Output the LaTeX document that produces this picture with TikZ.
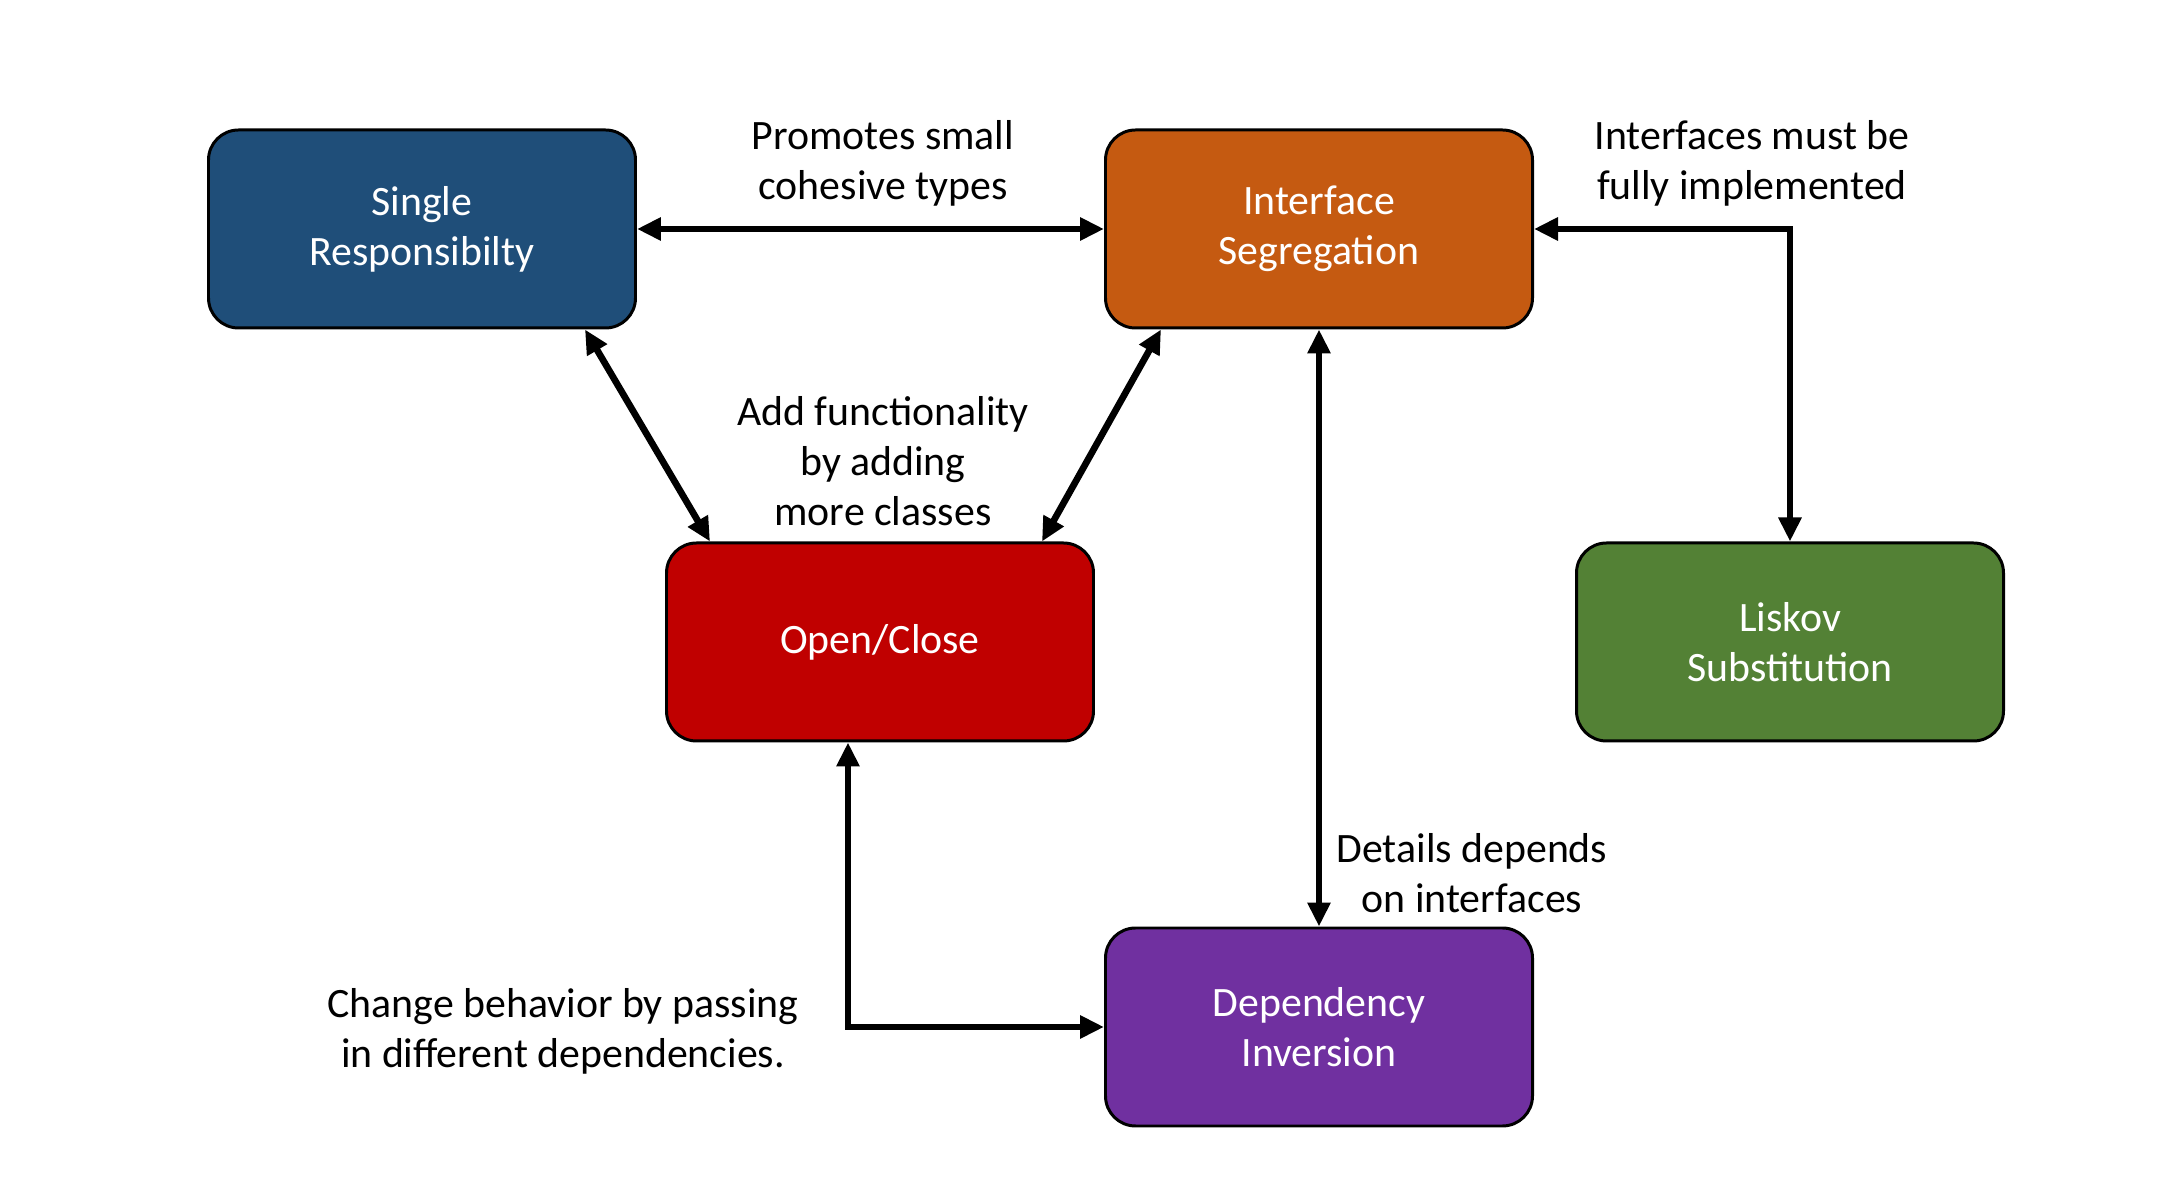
\documentclass[tikz,border=0pt]{standalone}
\usepackage{fontspec}
\setmainfont{Carlito}
\usepackage{xcolor}
\usetikzlibrary{arrows.meta, positioning}

\definecolor{srblue}{HTML}{1F4E79}
\definecolor{isorange}{HTML}{C55A11}
\definecolor{ocred}{HTML}{C00000}
\definecolor{lsgreen}{HTML}{538135}
\definecolor{dipurple}{HTML}{7030A0}

\begin{document}
\begin{tikzpicture}[
    principle/.style={draw=black, line width=0.85pt, rounded corners=0.3cm,
      minimum width=4.27cm, minimum height=1.98cm, align=center,
      text=white, font=\fontsize{11.9}{14.3}\selectfont},
    note/.style={align=center, inner sep=0pt, font=\fontsize{11.9}{14.3}\selectfont},
    link/.style={line width=1.9pt, {Triangle[length=0.24cm,width=0.22cm]}-{Triangle[length=0.24cm,width=0.22cm]}}
  ]
  \useasboundingbox (0,0) rectangle (21.75,-11.9);

  \node[principle, fill=srblue] (Single) at (4.22,-2.29) {Single\\Responsibilty};
  \node[principle, fill=isorange] (Interface) at (13.19,-2.29) {Interface\\Segregation};
  \node[principle, fill=ocred] (Open) at (8.80,-6.42) {\raisebox{-0.4ex}{Open/Close}};
  \node[principle, fill=lsgreen] (Liskov) at (17.90,-6.42) {Liskov\\Substitution};
  \node[principle, fill=dipurple] (Dependency) at (13.19,-10.27) {Dependency\\Inversion};

  \node[note] (Promotes) at (8.83,-1.63) {Promotes small\\cohesive types};
  \node[note] (MustImplement) at (17.52,-1.63) {Interfaces must be\\fully implemented};
  \node[note] (AddFunc) at (8.83,-4.61) {Add functionality\\by adding\\more classes};
  \node[note] (DependsOn) at (14.72,-8.73) {Details depends\\on interfaces};
  \node[note] (ChangeBehavior) at (5.63,-10.31) {Change behavior by passing\\in different dependencies.};

  \draw[link] (Single) -- (Interface);
  \draw[link] (Interface.east) -| (Liskov.north);
  \draw[link] ([xshift=1.63cm]Single.south) -- ([xshift=-1.70cm]Open.north);
  \draw[link] ([xshift=-1.58cm]Interface.south) -- ([xshift=1.62cm]Open.north);
  \draw[link] (Interface) -- (Dependency);
  \draw[link] ([xshift=-0.32cm]Open.south) |- (Dependency.west);

\end{tikzpicture}
\end{document}
